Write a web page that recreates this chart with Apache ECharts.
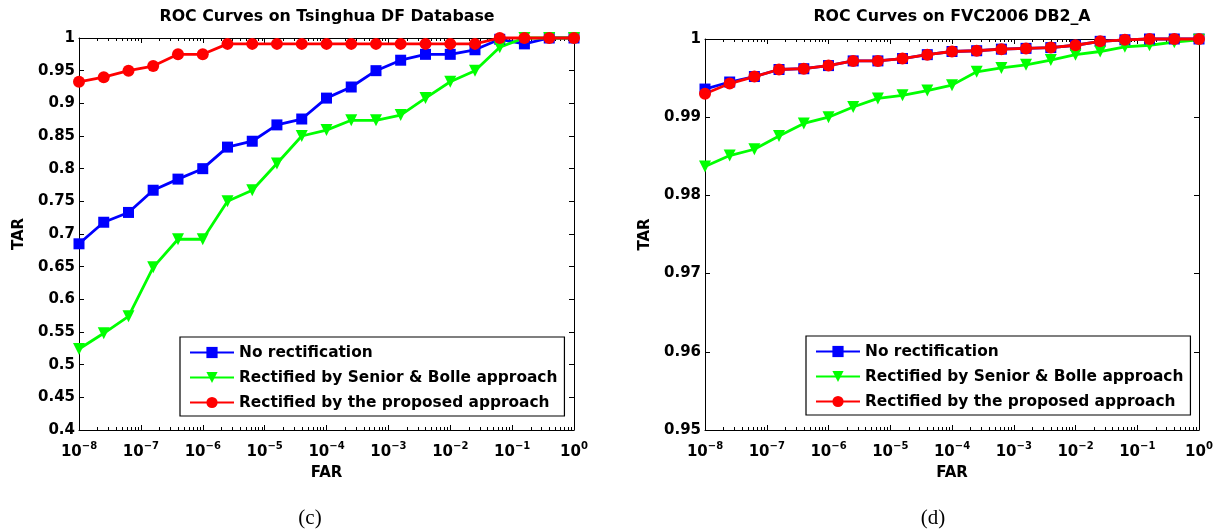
<!DOCTYPE html>
<html>
<head>
<meta charset="utf-8">
<script src="https://cdn.jsdelivr.net/npm/echarts@6/dist/echarts.min.js"></script>
<style>
  html, body { margin: 0; padding: 0; background: #fff; }
  #chart { width: 1221px; height: 531px; }
</style>
</head>
<body>
<div id="chart"></div>
<script>
// FAR sample points (same for both panels)
const farValues = [1e-8, 2.51e-8, 6.31e-8, 1.58e-7, 3.98e-7, 1e-6, 2.51e-6, 6.31e-6, 1.58e-5, 3.98e-5,
  1e-4, 2.51e-4, 6.31e-4, 1.58e-3, 3.98e-3, 1e-2, 2.51e-2, 6.31e-2, 0.158, 0.398, 1];

const seriesNames = ['No rectification', 'Rectified by Senior & Bolle approach', 'Rectified by the proposed approach'];

// (c) Tsinghua DF
const tsinghuaNone = [0.685, 0.718, 0.733, 0.767, 0.784, 0.800, 0.833, 0.842, 0.867, 0.876,
  0.908, 0.925, 0.950, 0.966, 0.975, 0.975, 0.982, 0.998, 0.991, 1.0, 1.0];
const tsinghuaSB = [0.524, 0.548, 0.574, 0.649, 0.692, 0.692, 0.750, 0.767, 0.808, 0.850,
  0.859, 0.874, 0.874, 0.882, 0.908, 0.933, 0.950, 0.986, 1.0, 1.0, 1.0];
const tsinghuaOurs = [0.933, 0.940, 0.950, 0.957, 0.975, 0.975, 0.991, 0.991, 0.991, 0.991,
  0.991, 0.991, 0.991, 0.991, 0.991, 0.991, 0.991, 1.0, 1.0, 1.0, 1.0];

// (d) FVC2006 DB2_A
const fvcNone = [0.9936, 0.9945, 0.9952, 0.9961, 0.9962, 0.9966, 0.9972, 0.9972, 0.9975, 0.9980,
  0.9984, 0.9985, 0.9987, 0.9988, 0.9989, 0.9992, 0.9997, 0.9999, 1.0, 1.0, 1.0];
const fvcSB = [0.9837, 0.9851, 0.9859, 0.9876, 0.9892, 0.9900, 0.9913, 0.9924, 0.9928, 0.9934,
  0.9941, 0.9958, 0.9963, 0.9967, 0.9973, 0.9980, 0.9984, 0.9990, 0.9992, 0.9996, 0.9999];
const fvcOurs = [0.9930, 0.9943, 0.9952, 0.9961, 0.9962, 0.9966, 0.9972, 0.9972, 0.9975, 0.9980,
  0.9984, 0.9985, 0.9987, 0.9988, 0.9989, 0.9992, 0.9997, 0.9999, 1.0, 1.0, 1.0];

const FONT = 'DejaVu Sans';
const boldText = { color: '#000', fontFamily: FONT, fontWeight: 'bold', fontSize: 15 };

function pairs(ys) {
  return farValues.map(function (x, i) { return [x, ys[i]]; });
}

function farLabel(value) {
  const e = Math.round(Math.log10(value));
  return '{b|10}{s|' + (e < 0 ? '\u2212' + (-e) : e) + '}';
}

function xAxes(gridIndex) {
  const common = {
    type: 'log', logBase: 10, gridIndex: gridIndex, min: 1e-8, max: 1, splitNumber: 8,
    axisLine: { show: true, lineStyle: { color: '#000', width: 1 } },
    axisTick: { show: true, inside: true, length: 5, lineStyle: { color: '#000' } },
    minorTick: { show: true, splitNumber: 9, length: 3, lineStyle: { color: '#000' } },
    splitLine: { show: false },
    minorSplitLine: { show: false }
  };
  return [
    Object.assign({}, common, {
      position: 'bottom',
      name: 'FAR', nameLocation: 'middle', nameGap: 36, nameTextStyle: boldText,
      axisLabel: {
        margin: 11,
        formatter: farLabel,
        rich: {
          b: Object.assign({}, boldText, { verticalAlign: 'bottom' }),
          s: Object.assign({}, boldText, { fontSize: 10, verticalAlign: 'bottom', padding: [0, 0, 9, 0] })
        }
      }
    }),
    Object.assign({}, common, { position: 'top', axisLabel: { show: false } })
  ];
}

function yAxes(gridIndex, min, interval) {
  const common = {
    type: 'value', gridIndex: gridIndex, min: min, max: 1, interval: interval,
    axisLine: { show: true, lineStyle: { color: '#000', width: 1 } },
    axisTick: { show: true, inside: true, length: 5, lineStyle: { color: '#000' } },
    splitLine: { show: false }
  };
  return [
    Object.assign({}, common, {
      position: 'left',
      name: 'TAR', nameLocation: 'middle', nameGap: 52, nameTextStyle: boldText,
      axisLabel: Object.assign({ margin: 4 }, boldText)
    }),
    Object.assign({}, common, { position: 'right', axisLabel: { show: false } })
  ];
}

const styles = [
  { color: '#0000ff', symbol: 'rect', symbolSize: 11, symbolRotate: 0 },
  { color: '#00ff00', symbol: 'triangle', symbolSize: 12, symbolRotate: 180 },
  { color: '#ff0000', symbol: 'circle', symbolSize: 12, symbolRotate: 0 }
];

function makeSeries(gridIndex, sets) {
  return sets.map(function (ys, i) {
    const st = styles[i];
    return {
      name: seriesNames[i], type: 'line',
      xAxisIndex: gridIndex * 2, yAxisIndex: gridIndex * 2,
      data: pairs(ys),
      symbol: st.symbol, symbolSize: st.symbolSize, symbolRotate: st.symbolRotate,
      showAllSymbol: true, clip: false,
      itemStyle: { color: st.color },
      lineStyle: { color: st.color, width: 2.8 },
      animation: false
    };
  });
}

function makeLegend(left, top) {
  return {
    orient: 'vertical', left: left, top: top,
    itemWidth: 44, itemHeight: 14, itemGap: 10,
    padding: [8, 7, 6, 9],
    borderColor: '#000', borderWidth: 1.2, backgroundColor: '#fff',
    textStyle: { color: '#000', fontFamily: FONT, fontWeight: 'bold', fontSize: 15.4 },
    data: seriesNames
  };
}

const chart = echarts.init(document.getElementById('chart'), null, { renderer: 'canvas' });
chart.setOption({
  animation: false,
  backgroundColor: '#fff',
  grid: [
    { left: 79, top: 38, width: 495, height: 392 },
    { left: 705, top: 39, width: 494, height: 391 }
  ],
  xAxis: xAxes(0).concat(xAxes(1)),
  yAxis: yAxes(0, 0.4, 0.05).concat(yAxes(1, 0.95, 0.01)),
  legend: [makeLegend(180, 337), makeLegend(806, 336)],
  series: makeSeries(0, [tsinghuaNone, tsinghuaSB, tsinghuaOurs])
    .concat(makeSeries(1, [fvcNone, fvcSB, fvcOurs])),
  graphic: [
    { type: 'text', x: 327, y: 17, style: { text: 'ROC Curves on Tsinghua DF Database', font: 'bold 15.8px "DejaVu Sans"', fill: '#000', align: 'center', verticalAlign: 'middle' } },
    { type: 'text', x: 952, y: 17, style: { text: 'ROC Curves on FVC2006 DB2_A', font: 'bold 15.8px "DejaVu Sans"', fill: '#000', align: 'center', verticalAlign: 'middle' } },
    { type: 'text', x: 310, y: 518, style: { text: '(c)', font: '21px "Liberation Serif"', fill: '#000', align: 'center', verticalAlign: 'middle' } },
    { type: 'text', x: 933, y: 518, style: { text: '(d)', font: '21px "Liberation Serif"', fill: '#000', align: 'center', verticalAlign: 'middle' } }
  ]
});
</script>
</body>
</html>
